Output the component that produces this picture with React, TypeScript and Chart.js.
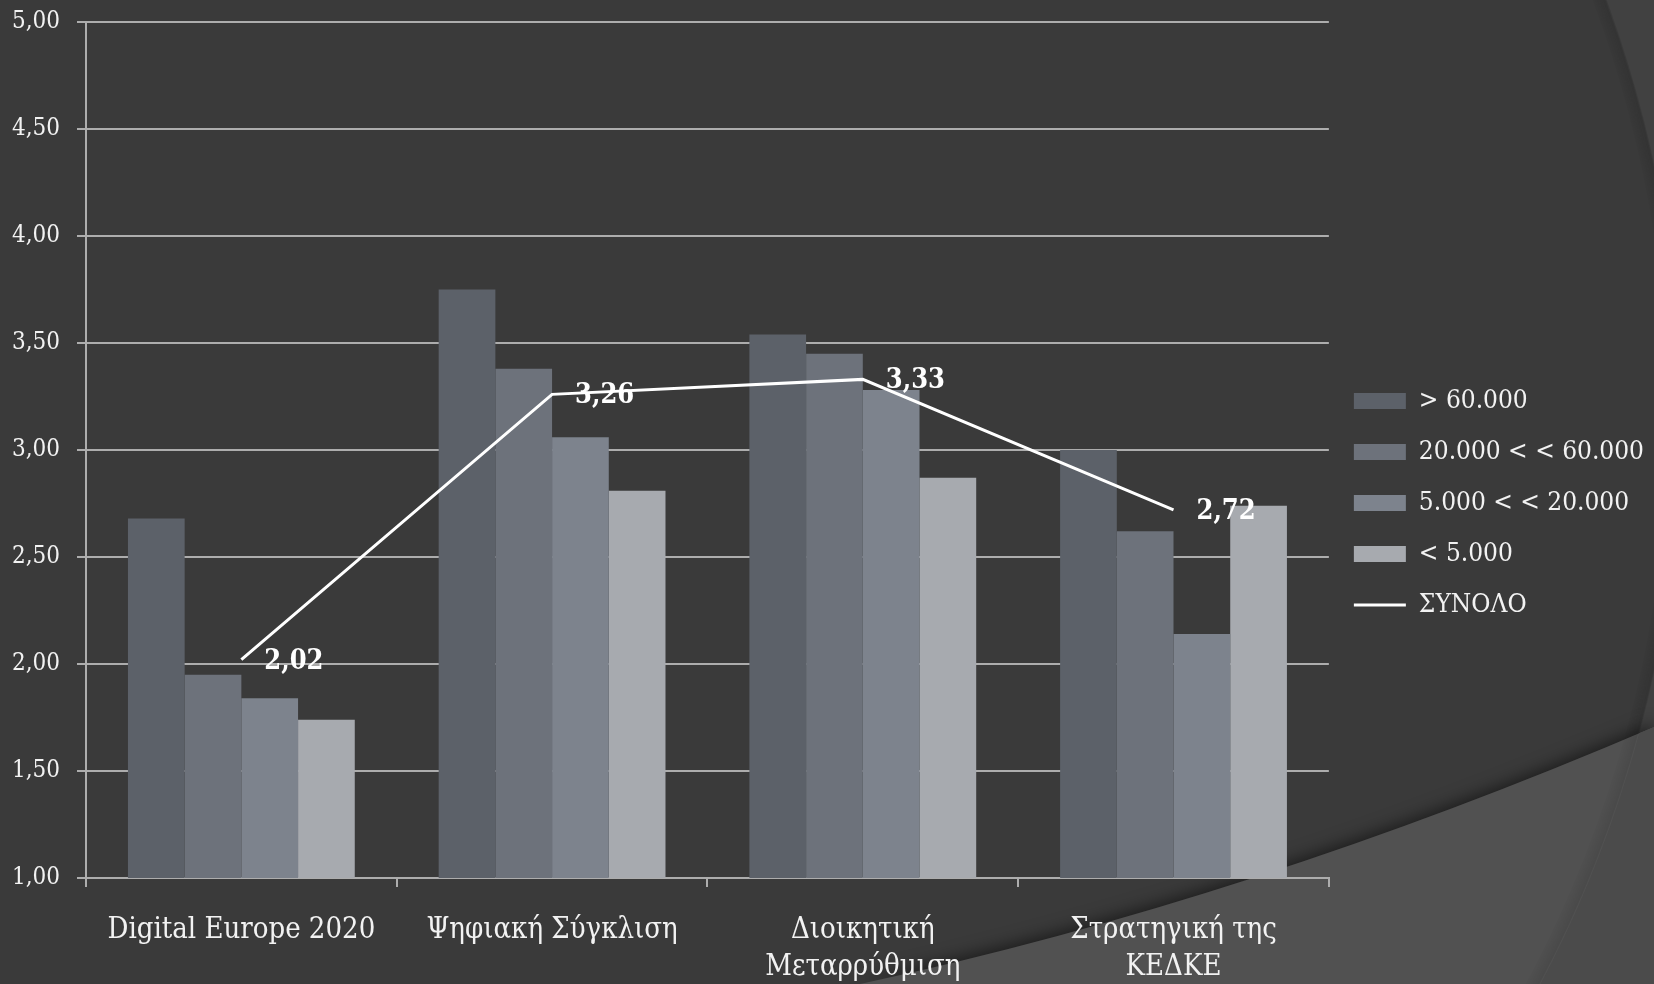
import React, { useEffect, useRef } from 'react';
import { Chart, registerables } from 'chart.js';

Chart.register(...registerables);

const categories: string[][] = [
  ['Digital Europe 2020'],
  ['Ψηφιακή Σύγκλιση'],
  ['Διοικητική', 'Μεταρρύθμιση'],
  ['Στρατηγική της', 'ΚΕΔΚΕ'],
];
const seriesNames = ['> 60.000', '20.000 < < 60.000', '5.000 < < 20.000', '< 5.000'];
const over60 = [2.68, 3.75, 3.54, 3.0];
const from20to60 = [1.95, 3.38, 3.45, 2.62];
const from5to20 = [1.84, 3.06, 3.28, 2.14];
const under5 = [1.74, 2.81, 2.87, 2.74];
const totalName = 'ΣΥΝΟΛΟ';
const total = [2.02, 3.26, 3.33, 2.72];
const yMin = 1;
const yMax = 5;
const yStep = 0.5;

const barColors = ['#5c6169', '#6d727b', '#7d838d', '#a7aaaf'];
const FONT = "'DejaVu Serif Condensed', 'DejaVu Serif', serif";
const TEXT = '#f2f2f2';
const GRID = '#adadad';

const fmt = (v: number) => v.toFixed(2).replace('.', ',');

const bgPlugin = {
  id: 'bgDecor',
  beforeDraw(chart: any) {
    const { ctx, width, height } = chart;
    ctx.save();
    ctx.fillStyle = '#3a3a3a';
    ctx.fillRect(0, 0, width, height);
    const cx = 470, cy = 418, r = 1211;
    // region outside the big circle
    ctx.beginPath();
    ctx.rect(0, 0, width, height);
    ctx.arc(cx, cy, r, 0, Math.PI * 2, true);
    ctx.fillStyle = '#414141';
    ctx.fill('evenodd');
    // soft shadow just inside the circle edge
    for (let k = 0; k < 6; k++) {
      ctx.beginPath();
      ctx.arc(cx, cy, r - 2 - k * 2, 0, Math.PI * 2);
      ctx.strokeStyle = `rgba(0,0,0,${0.1 - k * 0.015})`;
      ctx.lineWidth = 2;
      ctx.stroke();
    }
    // lighter band bottom-right
    const band = () => {
      ctx.beginPath();
      ctx.moveTo(860, height);
      ctx.quadraticCurveTo(1250, 900, width, 727);
      ctx.lineTo(width, height);
      ctx.closePath();
    };
    ctx.save();
    ctx.shadowColor = 'rgba(0,0,0,0.5)';
    ctx.shadowBlur = 16;
    ctx.shadowOffsetY = -4;
    band();
    ctx.fillStyle = '#515151';
    ctx.fill();
    ctx.restore();
    // part of band outside circle
    ctx.save();
    band();
    ctx.clip();
    ctx.beginPath();
    ctx.rect(0, 0, width, height);
    ctx.arc(cx, cy, r, 0, Math.PI * 2, true);
    ctx.fillStyle = '#4b4b4b';
    ctx.fill('evenodd');
    for (let k = 0; k < 6; k++) {
      ctx.beginPath();
      ctx.arc(cx, cy, r - 2 - k * 2, 0, Math.PI * 2);
      ctx.strokeStyle = `rgba(0,0,0,${0.08 - k * 0.012})`;
      ctx.lineWidth = 2;
      ctx.stroke();
    }
    ctx.restore();
    ctx.restore();
  },
};

const totalLabels = {
  id: 'totalLabels',
  afterDatasetsDraw(chart: any) {
    const idx = chart.data.datasets.findIndex((d: any) => d.type === 'line');
    if (idx < 0) return;
    const meta = chart.getDatasetMeta(idx);
    const { ctx } = chart;
    ctx.save();
    ctx.font = `bold 27px ${FONT}`;
    ctx.fillStyle = '#ffffff';
    ctx.textAlign = 'left';
    ctx.textBaseline = 'middle';
    meta.data.forEach((pt: any, i: number) => {
      const v = chart.data.datasets[idx].data[i];
      ctx.fillText(fmt(v), pt.x + 23, pt.y + 2);
    });
    ctx.restore();
  },
};

export default function App() {
  const ref = useRef<HTMLCanvasElement | null>(null);
  useEffect(() => {
    if (!ref.current) return;
    const barSeries = [over60, from20to60, from5to20, under5];
    const chart = new Chart(ref.current, {
      type: 'bar',
      data: {
        labels: categories,
        datasets: [
          ...barSeries.map((d, i) => ({
            type: 'bar' as const,
            label: seriesNames[i],
            data: d,
            backgroundColor: barColors[i],
            borderWidth: 0,
            pointStyle: 'rect',
            order: 1,
            categoryPercentage: 0.73,
            barPercentage: 1.0,
          })),
          {
            type: 'line' as const,
            label: totalName,
            data: total,
            borderColor: '#ffffff',
            backgroundColor: '#ffffff',
            borderWidth: 3,
            pointRadius: 0,
            pointHoverRadius: 0,
            pointStyle: 'line',
            tension: 0,
            order: 0,
          },
        ],
      } as any,
      options: {
        animation: false,
        responsive: true,
        maintainAspectRatio: false,
        layout: { padding: { top: 22, left: 0, right: 0, bottom: 0 } },
        plugins: {
          tooltip: { enabled: false },
          legend: {
            position: 'right',
            align: 'center',
            maxWidth: 400,
            labels: {
              usePointStyle: true,
              pointStyleWidth: 52,
              boxHeight: 16,
              padding: 25,
              color: TEXT,
              font: { family: FONT, size: 26 },
              sort: (a: any, b: any) => a.datasetIndex - b.datasetIndex,
            },
          },
        },
        scales: {
          x: {
            grid: {
              display: true,
              drawOnChartArea: false,
              color: GRID,
              lineWidth: 2,
              tickLength: 9,
              offset: true,
            },
            border: { display: true, color: GRID, width: 2 },
            ticks: {
              color: TEXT,
              font: { family: FONT, size: 29, lineHeight: 1.28 },
              padding: 25,
              maxRotation: 0,
              autoSkip: false,
            },
            afterFit: (s: any) => {
              s.height = 106;
            },
          },
          y: {
            min: yMin,
            max: yMax,
            ticks: {
              stepSize: yStep,
              callback: (v: any) => fmt(Number(v)),
              color: TEXT,
              font: { family: FONT, size: 24 },
              padding: 17,
            },
            grid: { color: GRID, lineWidth: 2, tickLength: 9 },
            border: { display: true, color: GRID, width: 2 },
            afterFit: (s: any) => {
              s.width = 86;
              s.paddingTop = 0;
              s.paddingBottom = 0;
            },
          },
        },
      } as any,
      plugins: [bgPlugin, totalLabels],
    });
    return () => chart.destroy();
  }, []);
  return (
    <div style={{ position: 'fixed', left: 0, top: 0, width: 1654, height: 984 }}>
      <canvas ref={ref} style={{ display: 'block' }} />
    </div>
  );
}
